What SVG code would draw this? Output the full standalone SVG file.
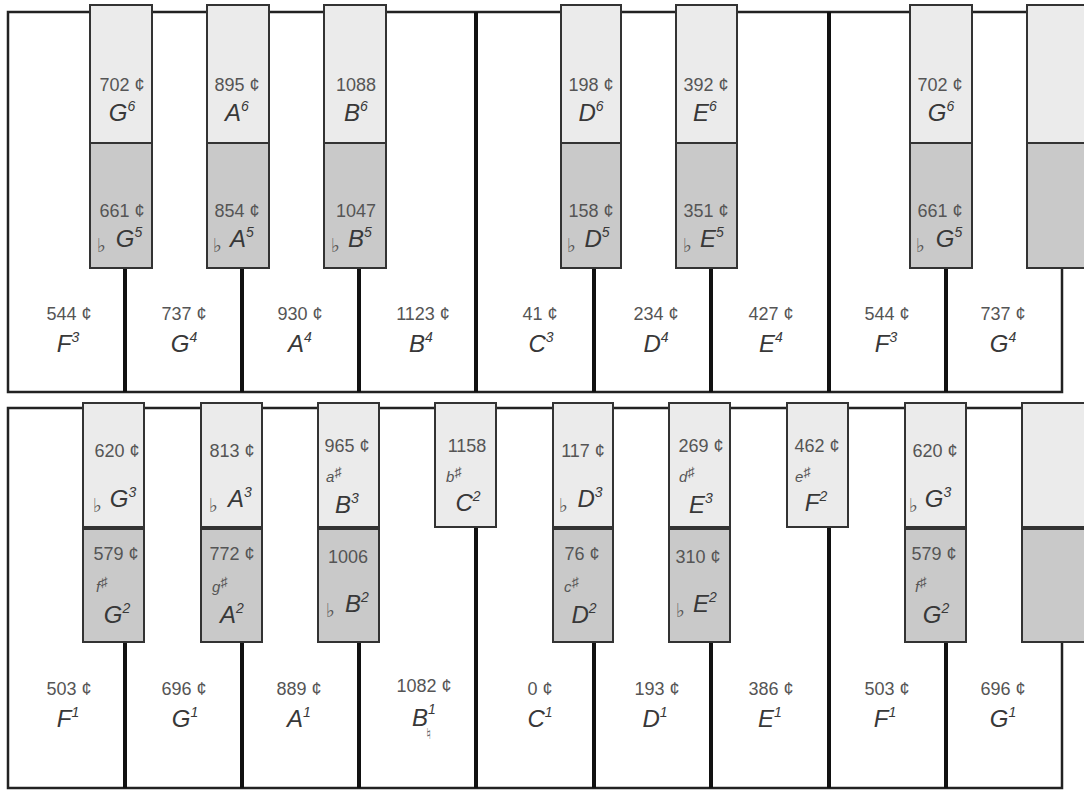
<svg xmlns="http://www.w3.org/2000/svg" width="1084" height="791" viewBox="0 0 1084 791">
<style>
.frame{fill:#fff;stroke:#222;stroke-width:2.5}
.sep{stroke:#111;stroke-width:4}
.hi{fill:#ebebeb;stroke:#333;stroke-width:2}
.lo{fill:#c9c9c9;stroke:#333;stroke-width:2}
.c{font-family:"Liberation Sans",Arial,sans-serif;font-size:18px;fill:#555;text-anchor:middle}
.n{font-family:"Liberation Sans",Arial,sans-serif;font-style:italic;font-size:24px;fill:#383838;text-anchor:middle}
.sp{font-size:14px}
.fl{font-family:"DejaVu Sans",sans-serif;font-size:19px;fill:#555}
.sh{font-family:"Liberation Sans","DejaVu Sans",sans-serif;font-style:italic;font-size:15px;fill:#555}
.ss{font-size:14px}
</style>
<rect width="1084" height="791" fill="#fff"/>
<rect class="frame" x="8" y="12" width="1054" height="380"/>
<rect class="frame" x="8" y="408" width="1054" height="380"/>
<g id="separators">
<line class="sep" x1="125" y1="268" x2="125" y2="392"/>
<line class="sep" x1="242" y1="268" x2="242" y2="392"/>
<line class="sep" x1="359" y1="268" x2="359" y2="392"/>
<line class="sep" x1="476" y1="12" x2="476" y2="392"/>
<line class="sep" x1="594" y1="268" x2="594" y2="392"/>
<line class="sep" x1="711" y1="268" x2="711" y2="392"/>
<line class="sep" x1="829" y1="12" x2="829" y2="392"/>
<line class="sep" x1="946" y1="268" x2="946" y2="392"/>
<line class="sep" x1="125" y1="642" x2="125" y2="788"/>
<line class="sep" x1="242" y1="642" x2="242" y2="788"/>
<line class="sep" x1="359" y1="642" x2="359" y2="788"/>
<line class="sep" x1="476" y1="527" x2="476" y2="788"/>
<line class="sep" x1="594" y1="642" x2="594" y2="788"/>
<line class="sep" x1="711" y1="642" x2="711" y2="788"/>
<line class="sep" x1="829" y1="527" x2="829" y2="788"/>
<line class="sep" x1="946" y1="642" x2="946" y2="788"/>
</g>
<!-- top row white keys -->
<g id="t-w1"><text class="c" x="69" y="320">544 ¢</text><text class="n" x="68" y="352">F<tspan class="sp" dy="-10">3</tspan></text></g>
<g id="t-w2"><text class="c" x="184" y="320">737 ¢</text><text class="n" x="184" y="352">G<tspan class="sp" dy="-10">4</tspan></text></g>
<g id="t-w3"><text class="c" x="300" y="320">930 ¢</text><text class="n" x="300" y="352">A<tspan class="sp" dy="-10">4</tspan></text></g>
<g id="t-w4"><text class="c" x="423" y="320">1123 ¢</text><text class="n" x="421" y="352">B<tspan class="sp" dy="-10">4</tspan></text></g>
<g id="t-w5"><text class="c" x="540" y="320">41 ¢</text><text class="n" x="541" y="352">C<tspan class="sp" dy="-10">3</tspan></text></g>
<g id="t-w6"><text class="c" x="656" y="320">234 ¢</text><text class="n" x="656" y="352">D<tspan class="sp" dy="-10">4</tspan></text></g>
<g id="t-w7"><text class="c" x="771" y="320">427 ¢</text><text class="n" x="771" y="352">E<tspan class="sp" dy="-10">4</tspan></text></g>
<g id="t-w8"><text class="c" x="887" y="320">544 ¢</text><text class="n" x="886" y="352">F<tspan class="sp" dy="-10">3</tspan></text></g>
<g id="t-w9"><text class="c" x="1003" y="320">737 ¢</text><text class="n" x="1003" y="352">G<tspan class="sp" dy="-10">4</tspan></text></g>
<!-- top row black keys -->
<g id="t-b1"><rect class="hi" x="90" y="5" width="62" height="138"/><rect class="lo" x="90" y="143" width="62" height="125"/>
<text class="c" x="122" y="91">702 ¢</text><text class="n" x="122" y="121">G<tspan class="sp" dy="-10">6</tspan></text>
<text class="c" x="122" y="217">661 ¢</text><text class="fl" x="97" y="252">♭</text><text class="n" x="129" y="247">G<tspan class="sp" dy="-10">5</tspan></text></g>
<g id="t-b2"><rect class="hi" x="207" y="5" width="62" height="138"/><rect class="lo" x="207" y="143" width="62" height="125"/>
<text class="c" x="237" y="91">895 ¢</text><text class="n" x="237" y="121">A<tspan class="sp" dy="-10">6</tspan></text>
<text class="c" x="237" y="217">854 ¢</text><text class="fl" x="213" y="252">♭</text><text class="n" x="242" y="247">A<tspan class="sp" dy="-10">5</tspan></text></g>
<g id="t-b3"><rect class="hi" x="324" y="5" width="62" height="138"/><rect class="lo" x="324" y="143" width="62" height="125"/>
<text class="c" x="356" y="91">1088</text><text class="n" x="356" y="121">B<tspan class="sp" dy="-10">6</tspan></text>
<text class="c" x="356" y="217">1047</text><text class="fl" x="331" y="252">♭</text><text class="n" x="360" y="247">B<tspan class="sp" dy="-10">5</tspan></text></g>
<g id="t-b4"><rect class="hi" x="561" y="5" width="60" height="138"/><rect class="lo" x="561" y="143" width="60" height="125"/>
<text class="c" x="591" y="91">198 ¢</text><text class="n" x="591" y="121">D<tspan class="sp" dy="-10">6</tspan></text>
<text class="c" x="591" y="217">158 ¢</text><text class="fl" x="567" y="252">♭</text><text class="n" x="597" y="247">D<tspan class="sp" dy="-10">5</tspan></text></g>
<g id="t-b5"><rect class="hi" x="676" y="5" width="61" height="138"/><rect class="lo" x="676" y="143" width="61" height="125"/>
<text class="c" x="706" y="91">392 ¢</text><text class="n" x="705" y="121">E<tspan class="sp" dy="-10">6</tspan></text>
<text class="c" x="706" y="217">351 ¢</text><text class="fl" x="683" y="252">♭</text><text class="n" x="712" y="247">E<tspan class="sp" dy="-10">5</tspan></text></g>
<g id="t-b6"><rect class="hi" x="910" y="5" width="62" height="138"/><rect class="lo" x="910" y="143" width="62" height="125"/>
<text class="c" x="940" y="91">702 ¢</text><text class="n" x="941" y="121">G<tspan class="sp" dy="-10">6</tspan></text>
<text class="c" x="940" y="217">661 ¢</text><text class="fl" x="916" y="252">♭</text><text class="n" x="949" y="247">G<tspan class="sp" dy="-10">5</tspan></text></g>
<g id="t-b7"><rect class="hi" x="1027" y="5" width="62" height="138"/><rect class="lo" x="1027" y="143" width="62" height="125"/></g>
<!-- bottom row white keys -->
<g id="b-w1"><text class="c" x="69" y="695">503 ¢</text><text class="n" x="68" y="727">F<tspan class="sp" dy="-10">1</tspan></text></g>
<g id="b-w2"><text class="c" x="184" y="695">696 ¢</text><text class="n" x="185" y="727">G<tspan class="sp" dy="-10">1</tspan></text></g>
<g id="b-w3"><text class="c" x="299" y="695">889 ¢</text><text class="n" x="299" y="727">A<tspan class="sp" dy="-10">1</tspan></text></g>
<g id="b-w4"><text class="c" x="424" y="692">1082 ¢</text><text class="n" x="424" y="726">B<tspan class="sp" dy="-12">1</tspan></text><text class="fl" x="426" y="739" style="font-size:15px">♮</text></g>
<g id="b-w5"><text class="c" x="540" y="695">0 ¢</text><text class="n" x="540" y="727">C<tspan class="sp" dy="-10">1</tspan></text></g>
<g id="b-w6"><text class="c" x="657" y="695">193 ¢</text><text class="n" x="655" y="727">D<tspan class="sp" dy="-10">1</tspan></text></g>
<g id="b-w7"><text class="c" x="771" y="695">386 ¢</text><text class="n" x="770" y="727">E<tspan class="sp" dy="-10">1</tspan></text></g>
<g id="b-w8"><text class="c" x="887" y="695">503 ¢</text><text class="n" x="885" y="727">F<tspan class="sp" dy="-10">1</tspan></text></g>
<g id="b-w9"><text class="c" x="1003" y="695">696 ¢</text><text class="n" x="1003" y="727">G<tspan class="sp" dy="-10">1</tspan></text></g>
<!-- bottom row black keys -->
<g id="b-b1"><rect class="hi" x="83" y="403" width="61" height="124"/><rect class="lo" x="83" y="529" width="61" height="113"/>
<text class="c" x="117" y="457">620 ¢</text><text class="fl" x="93" y="512">♭</text><text class="n" x="123" y="507">G<tspan class="sp" dy="-10">3</tspan></text>
<text class="c" x="116" y="560">579 ¢</text><text class="sh" x="96" y="592">f<tspan class="ss" dy="-5">♯</tspan></text><text class="n" x="117" y="623">G<tspan class="sp" dy="-10">2</tspan></text></g>
<g id="b-b2"><rect class="hi" x="201" y="403" width="61" height="124"/><rect class="lo" x="201" y="529" width="61" height="113"/>
<text class="c" x="232" y="457">813 ¢</text><text class="fl" x="209" y="512">♭</text><text class="n" x="240" y="507">A<tspan class="sp" dy="-10">3</tspan></text>
<text class="c" x="232" y="560">772 ¢</text><text class="sh" x="212" y="592">g<tspan class="ss" dy="-5">♯</tspan></text><text class="n" x="232" y="623">A<tspan class="sp" dy="-10">2</tspan></text></g>
<g id="b-b3"><rect class="hi" x="318" y="403" width="61" height="124"/><rect class="lo" x="318" y="529" width="61" height="113"/>
<text class="c" x="347" y="452">965 ¢</text><text class="sh" x="326" y="482">a<tspan class="ss" dy="-5">♯</tspan></text><text class="n" x="347" y="513">B<tspan class="sp" dy="-10">3</tspan></text>
<text class="c" x="348" y="563">1006</text><text class="fl" x="326" y="617">♭</text><text class="n" x="357" y="612">B<tspan class="sp" dy="-10">2</tspan></text></g>
<g id="b-b4"><rect class="hi" x="435" y="403" width="61" height="124"/>
<text class="c" x="467" y="452">1158</text><text class="sh" x="446" y="482">b<tspan class="ss" dy="-5">♯</tspan></text><text class="n" x="468" y="511">C<tspan class="sp" dy="-10">2</tspan></text></g>
<g id="b-b5"><rect class="hi" x="553" y="403" width="60" height="124"/><rect class="lo" x="553" y="529" width="60" height="113"/>
<text class="c" x="583" y="457">117 ¢</text><text class="fl" x="559" y="512">♭</text><text class="n" x="590" y="507">D<tspan class="sp" dy="-10">3</tspan></text>
<text class="c" x="582" y="560">76 ¢</text><text class="sh" x="564" y="592">c<tspan class="ss" dy="-5">♯</tspan></text><text class="n" x="584" y="623">D<tspan class="sp" dy="-10">2</tspan></text></g>
<g id="b-b6"><rect class="hi" x="669" y="403" width="61" height="124"/><rect class="lo" x="669" y="529" width="61" height="113"/>
<text class="c" x="701" y="452">269 ¢</text><text class="sh" x="679" y="482">d<tspan class="ss" dy="-5">♯</tspan></text><text class="n" x="701" y="513">E<tspan class="sp" dy="-10">3</tspan></text>
<text class="c" x="698" y="563">310 ¢</text><text class="fl" x="676" y="617">♭</text><text class="n" x="705" y="612">E<tspan class="sp" dy="-10">2</tspan></text></g>
<g id="b-b7"><rect class="hi" x="787" y="403" width="61" height="124"/>
<text class="c" x="817" y="452">462 ¢</text><text class="sh" x="795" y="482">e<tspan class="ss" dy="-5">♯</tspan></text><text class="n" x="816" y="511">F<tspan class="sp" dy="-10">2</tspan></text></g>
<g id="b-b8"><rect class="hi" x="905" y="403" width="61" height="124"/><rect class="lo" x="905" y="529" width="61" height="113"/>
<text class="c" x="935" y="457">620 ¢</text><text class="fl" x="909" y="512">♭</text><text class="n" x="938" y="507">G<tspan class="sp" dy="-10">3</tspan></text>
<text class="c" x="934" y="560">579 ¢</text><text class="sh" x="915" y="592">f<tspan class="ss" dy="-5">♯</tspan></text><text class="n" x="936" y="623">G<tspan class="sp" dy="-10">2</tspan></text></g>
<g id="b-b9"><rect class="hi" x="1022" y="403" width="64" height="124"/><rect class="lo" x="1022" y="529" width="64" height="113"/></g>
</svg>
